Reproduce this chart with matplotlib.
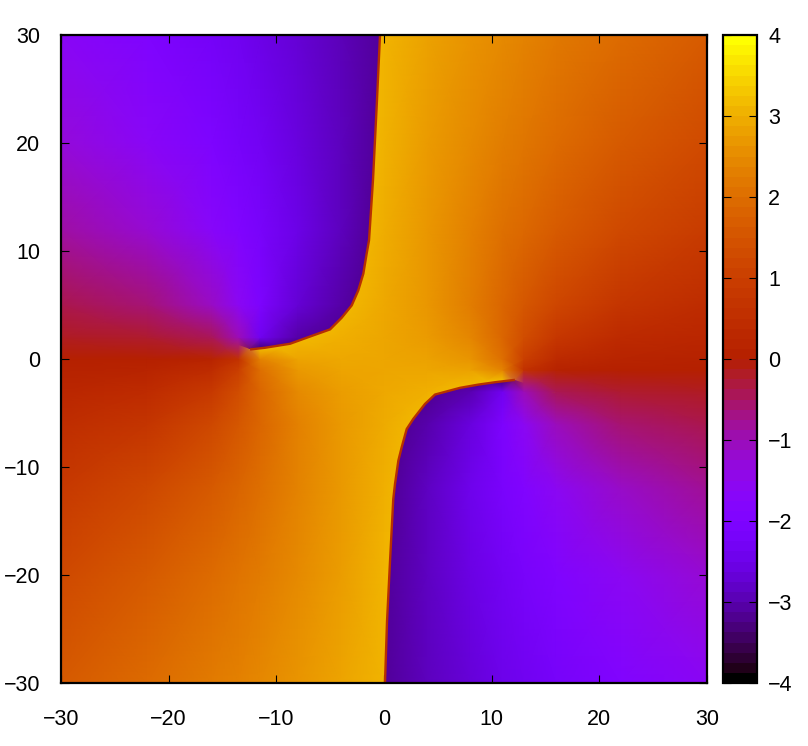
import matplotlib
matplotlib.use('Agg')
import matplotlib.pyplot as plt
import numpy as np
from matplotlib.cm import ScalarMappable
from matplotlib.colors import Normalize
from matplotlib.patches import Polygon

plt.rcParams['font.family'] = ['Liberation Sans', 'DejaVu Sans']

# sample positions, denser around the two points where the colours meet
xs = [-30, -22, -16, -13.5, -11.5, -8, -4, 0, 4, 8, 11, 13, 16, 22, 30]
ys = [-30, -20, -12, -6, -3, -1, 0, 2, 5, 12, 20, 30]

# values, one row per y
row_m30 = [1.65, 1.97, 2.25, 2.37, 2.48, 2.67, 2.89, 3.12, -2.93, -2.70, -2.52, -2.42, -2.25, -1.96, -1.63]
row_m20 = [1.28, 1.63, 1.98, 2.14, 2.28, 2.52, 2.81, 3.10, -2.89, -2.58, -2.35, -2.20, -1.98, -1.61, -1.25]
row_m12 = [0.87, 1.22, 1.65, 1.87, 2.06, 2.38, 2.72, 3.05, -2.90, -2.50, -2.17, -1.94, -1.62, -1.15, -0.81]
row_m6 = [0.47, 0.74, 1.24, 1.59, 1.89, 2.36, 2.72, 2.98, -3.05, -2.65, -2.09, -1.60, -1.04, -0.59, -0.39]
row_m3 = [0.24, 0.42, 0.87, 1.36, 1.88, 2.50, 2.80, 2.95, 3.06, -3.03, -2.43, -1.02, -0.42, -0.23, -0.16]
row_m1 = [0.08, 0.16, 0.45, 1.03, 2.05, 2.72, 2.88, 2.93, 2.93, 2.86, 2.39, 0.61, 0.13, 0.03, 0.00]
row_0 = [0.00, 0.03, 0.16, 0.61, 2.39, 2.88, 2.94, 2.93, 2.87, 2.68, 2.05, 1.03, 0.39, 0.16, 0.08]
row_2 = [-0.16, -0.24, -0.46, -1.02, -2.43, -3.07, 3.05, 2.93, 2.77, 2.44, 1.88, 1.36, 0.80, 0.40, 0.24]
row_5 = [-0.40, -0.61, -1.12, -1.60, -2.09, -2.72, -3.08, 2.95, 2.69, 2.31, 1.89, 1.59, 1.19, 0.72, 0.46]
row_12 = [-0.89, -1.25, -1.72, -1.98, -2.19, -2.56, -2.93, 3.02, 2.69, 2.35, 2.09, 1.91, 1.66, 1.26, 0.91]
row_20 = [-1.31, -1.68, -2.05, -2.23, -2.37, -2.63, -2.93, 3.07, 2.78, 2.50, 2.30, 2.17, 1.98, 1.65, 1.31]
row_30 = [-1.68, -2.01, -2.30, -2.43, -2.54, -2.73, -2.96, 3.10, 2.87, 2.65, 2.50, 2.39, 2.24, 1.97, 1.66]

# where the colour jumps
cut_up_x = [-12.44, -11.05, -8.73, -6.59, -5.01, -3.93, -3.0, -2.39, -1.92, -1.61, -1.39, -1.02, -0.65, -0.37]
cut_up_y = [0.88, 1.04, 1.41, 2.18, 2.74, 3.82, 4.96, 6.35, 7.9, 9.76, 11, 16.6, 24, 30]
cut_down_x = [12.16, 10.31, 8.76, 7.06, 4.74, 3.81, 2.72, 2.11, 1.64, 1.33, 1.02, 0.86, 0.56, 0.28, 0.09]
cut_down_y = [-1.93, -2.15, -2.37, -2.67, -3.29, -4.16, -5.55, -6.48, -8.18, -9.42, -11.58, -12.97, -18.7, -24.3, -30]

ticks = [-30, -20, -10, 0, 10, 20, 30]
cb_ticks = [-4, -3, -2, -1, 0, 1, 2, 3, 4]

z = np.array([row_m30, row_m20, row_m12, row_m6, row_m3, row_m1, row_0,
              row_2, row_5, row_12, row_20, row_30])

# two copies without the jump at the cut, so gouraud does not smear across it
warm = np.where(z < -1.57, z + 2 * np.pi, z)
cold = np.where(z > 1.57, z - 2 * np.pi, z)

W, H = 808, 746
fig = plt.figure(figsize=(W / 100, H / 100), dpi=100)
ax = fig.add_axes([61 / W, 1 - 683 / H, 646 / W, 648 / H])
cax = fig.add_axes([723 / W, 1 - 683 / H, 34 / W, 648 / H])

style = dict(cmap='gnuplot', vmin=-4, vmax=4, shading='gouraud', rasterized=True)
ax.pcolormesh(xs, ys, warm, **style)

upper = list(zip(cut_up_x, cut_up_y)) + [(-30, 30), (-30, 7)]
lower = list(zip(cut_down_x, cut_down_y)) + [(30, -30), (30, -8)]
for corners in (upper, lower):
    patch = Polygon(corners, closed=True, transform=ax.transData, fc='none', ec='none')
    ax.add_patch(patch)
    top = ax.pcolormesh(xs, ys, cold, **style)
    top.set_clip_path(patch)

ax.plot(cut_up_x, cut_up_y, color='#b83000', lw=1.7, solid_capstyle='butt')
ax.plot(cut_down_x, cut_down_y, color='#b83000', lw=1.7, solid_capstyle='butt')

ax.set_xlim(-30, 30)
ax.set_ylim(-30, 30)
ax.set_xticks(ticks)
ax.set_yticks(ticks)
ax.tick_params(direction='in', top=True, right=True, length=6, width=0.8,
               labelsize=15.5)
ax.tick_params(axis='x', pad=19)
ax.tick_params(axis='y', pad=15)
for spine in ax.spines.values():
    spine.set_linewidth(1.6)

# the colour box in the reference is banded
bands = ScalarMappable(Normalize(-4, 4), plt.get_cmap('gnuplot', 64))
cb = fig.colorbar(bands, cax=cax, ticks=cb_ticks)
cb.outline.set_linewidth(1.6)
cax.tick_params(direction='in', left=True, right=True, length=6, width=0.8,
                labelsize=15.5, pad=8)

fig.savefig('out.png', dpi=100)
